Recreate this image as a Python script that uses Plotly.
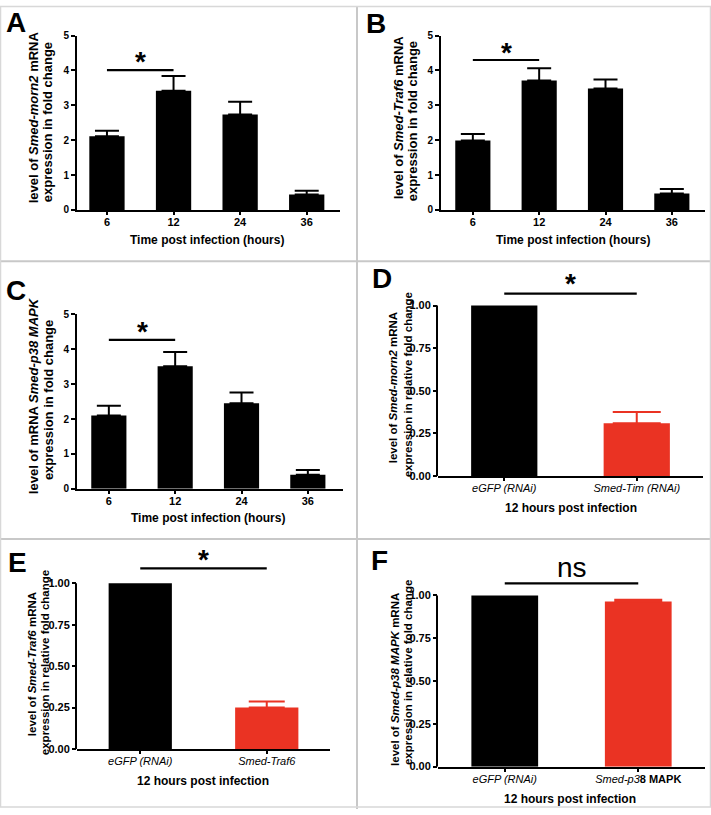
import plotly.graph_objects as go

W, H = 711, 815
FONT = "Liberation Sans, Arial, Helvetica, sans-serif"
RED = "#EA3323"
GRID = "#c8c8c8"

# ---------------- data ----------------
time_labels = ["6", "12", "24", "36"]

a_mean = [2.11, 3.42, 2.74, 0.44]
a_sem = [0.16, 0.42, 0.36, 0.11]
b_mean = [1.99, 3.71, 3.48, 0.47]
b_sem = [0.19, 0.35, 0.26, 0.13]
c_mean = [2.10, 3.51, 2.45, 0.40]
c_sem = [0.28, 0.41, 0.31, 0.14]

d_groups = ["eGFP (RNAi)", "Smed-Tim (RNAi)"]
d_ticktext = ["<i>eGFP (RNAi)</i>", "<i>Smed-Tim (RNAi)</i>"]
d_mean = [1.00, 0.31]
d_sem = [0.0, 0.065]

e_groups = ["eGFP (RNAi)", "Smed-Traf6"]
e_ticktext = ["<i>eGFP (RNAi)</i>", "<i>Smed-Traf6</i>"]
e_mean = [1.00, 0.25]
e_sem = [0.0, 0.037]

f_groups = ["eGFP (RNAi)", "Smed-p38 MAPK"]
f_ticktext = ["<i>eGFP (RNAi)</i>", "<i>Smed-p3</i><b>8 MAPK</b>"]
f_mean = [1.00, 0.965]
f_sem = [0.0, 0.01]

# significance brackets: (level of line, level of label, label)
sig_a = (4.01, 4.30, "*")
sig_b = (4.30, 4.58, "*")
sig_c = (4.27, 4.58, "*")
sig_d = (1.07, 1.14, "*")
sig_e = (1.09, 1.155, "*")
sig_f = (1.07, 1.15, "ns")

time_ticks = [0, 1, 2, 3, 4, 5]
rel_ticks = [0, 0.25, 0.5, 0.75, 1.0]


def px(p):
    return p / W


def py(p):
    return 1 - p / H


fig = go.Figure()

# panel geometry (pixel positions of plot areas)
panels = {
    1: dict(x=(77, 340), y=(207, 30), xr=[-0.45, 3.5]),
    2: dict(x=(441, 705), y=(207, 30), xr=[-0.48, 3.5]),
    3: dict(x=(77, 343), y=(490, 313), xr=[-0.48, 3.53]),
    4: dict(x=(438, 703), y=(477, 266), xr=[-0.5, 1.5]),
    5: dict(x=(77, 330), y=(754, 549), xr=[-0.5, 1.5]),
    6: dict(x=(438, 705), y=(772, 560), xr=[-0.5, 1.5]),
}

layout_axes = {}
time_sets = {1: (a_mean, a_sem, sig_a), 2: (b_mean, b_sem, sig_b), 3: (c_mean, c_sem, sig_c)}
rel_sets = {
    4: (d_groups, d_ticktext, d_mean, d_sem, sig_d, 24),
    5: (e_groups, e_ticktext, e_mean, e_sem, sig_e, 18),
    6: (f_groups, f_ticktext, f_mean, f_sem, sig_f, 24),
}

annotations = []
shapes = []

for i, g in panels.items():
    xa = "x" if i == 1 else f"x{i}"
    ya = "y" if i == 1 else f"y{i}"
    xkey = "xaxis" if i == 1 else f"xaxis{i}"
    ykey = "yaxis" if i == 1 else f"yaxis{i}"
    if i in time_sets:
        mean, sem, sig = time_sets[i]
        fig.add_trace(go.Bar(
            x=time_labels, y=mean, width=0.53, xaxis=xa, yaxis=ya,
            marker=dict(color="black", line=dict(width=0)),
            error_y=dict(type="data", array=sem, arrayminus=[0] * len(sem), symmetric=False,
                         color="black", thickness=2, width=12),
            showlegend=False, hoverinfo="skip"))
        fig.add_trace(go.Scatter(
            x=time_labels[:2], y=[sig[0], sig[0]], mode="lines", xaxis=xa, yaxis=ya,
            line=dict(color="black", width=2.2), showlegend=False, hoverinfo="skip"))
        annotations.append(dict(x=0.5, y=sig[1], xref=xa, yref=ya, text="<b>" + sig[2] + "</b>",
                                showarrow=False, font=dict(family=FONT, size=28, color="black"),
                                yanchor="middle", yshift=-2))
        layout_axes[xkey] = dict(
            domain=[px(g["x"][0]), px(g["x"][1])], anchor=ya, type="category",
            categoryorder="array", categoryarray=time_labels, range=g["xr"],
            showline=True, linecolor="black", linewidth=2, ticks="outside", ticklen=3,
            tickwidth=1.5, tickcolor="black", showgrid=False, zeroline=False,
            ticklabelstandoff=-2,
            tickfont=dict(family=FONT, size=11, color="black", weight="bold"))
        layout_axes[ykey] = dict(
            domain=[py(g["y"][0]), py(g["y"][1])], anchor=xa, range=[0, 5],
            tickvals=time_ticks, showline=True, linecolor="black", linewidth=2,
            ticks="outside", ticklen=4, tickwidth=2, tickcolor="black",
            showgrid=False, zeroline=False,
            tickfont=dict(family=FONT, size=10, color="black", weight="bold"))
    else:
        groups, ttext, mean, sem, sig, capw = rel_sets[i]
        fig.add_trace(go.Bar(
            x=groups[:1], y=mean[:1], width=0.5, xaxis=xa, yaxis=ya,
            marker=dict(color="black", line=dict(width=0)),
            showlegend=False, hoverinfo="skip"))
        fig.add_trace(go.Bar(
            x=groups[1:], y=mean[1:], width=0.5, xaxis=xa, yaxis=ya,
            marker=dict(color=RED, line=dict(width=0)),
            error_y=dict(type="data", array=sem[1:], arrayminus=[0], symmetric=False,
                         color=RED, thickness=2, width=capw),
            showlegend=False, hoverinfo="skip"))
        fig.add_trace(go.Scatter(
            x=groups, y=[sig[0], sig[0]], mode="lines", xaxis=xa, yaxis=ya,
            line=dict(color="black", width=2.2), showlegend=False, hoverinfo="skip"))
        is_ns = sig[2] == "ns"
        annotations.append(dict(x=0.5, y=sig[1], xref=xa, yref=ya,
                                text=sig[2] if is_ns else "<b>" + sig[2] + "</b>",
                                showarrow=False, font=dict(family=FONT, size=28, color="black"),
                                yanchor="middle", yshift=2 if is_ns else -2))
        layout_axes[xkey] = dict(
            domain=[px(g["x"][0]), px(g["x"][1])], anchor=ya, type="category",
            categoryorder="array", categoryarray=groups, range=g["xr"],
            tickvals=groups, ticktext=ttext,
            showline=True, linecolor="black", linewidth=2, ticks="outside", ticklen=3,
            tickwidth=1.5, tickcolor="black", showgrid=False, zeroline=False,
            ticklabelstandoff=-2,
            tickfont=dict(family=FONT, size=11, color="black"))
        layout_axes[ykey] = dict(
            domain=[py(g["y"][0]), py(g["y"][1])], anchor=xa, range=[0, 1.22],
            tickvals=rel_ticks, tickformat=".2f", showline=False,
            ticks="outside", ticklen=4, tickwidth=2, tickcolor="black",
            showgrid=False, zeroline=False,
            tickfont=dict(family=FONT, size=11, color="black", weight="bold"))
        # visible y axis line only up to 1.00
        shapes.append(dict(type="line", xref=f"{xa} domain", yref=ya, xsizemode="pixel",
                           xanchor=0, x0=-1, x1=-1, y0=0, y1=1.0,
                           line=dict(color="black", width=2)))

# panel letters
letters = [("A", 16, 17), ("B", 376, 17.5), ("C", 16, 288.5),
           ("D", 382, 276.5), ("E", 17.5, 565), ("F", 380, 563)]
for t, x, y in letters:
    annotations.append(dict(x=px(x), y=py(y), xref="paper", yref="paper", text="<b>" + t + "</b>",
                            showarrow=False, xanchor="center", yanchor="middle",
                            font=dict(family=FONT, size=28, color="black")))

# y-axis titles (two lines each)
ytitles = [
    ("level of <i>Smed-morn2</i> mRNA", 33, 113, 13),
    ("expression in fold change", 47, 118, 13),
    ("level of <i>Smed-Traf6</i> mRNA", 398, 113, 13),
    ("expression in fold change", 412, 117, 13),
    ("level of mRNA <i>Smed-p38 MAPK</i>", 33, 396, 13),
    ("expression in fold change", 48, 400, 13),
    ("level of <i>Smed-morn2</i> mRNA", 393, 388, 11.5),
    ("expression in relative fold change", 408, 385, 11.5),
    ("level of <i>Smed-Traf6</i> mRNA", 32, 668, 11.5),
    ("expression in relative fold change", 45, 667, 11.5),
    ("level of <i>Smed-p38 MAPK</i> mRNA", 395, 684, 11.5),
    ("expression in relative fold change", 408, 677, 11.5),
]
for t, x, y, s in ytitles:
    annotations.append(dict(x=px(x), y=py(y), xref="paper", yref="paper", text="<b>" + t + "</b>",
                            showarrow=False, textangle=-90, xanchor="center", yanchor="middle",
                            font=dict(family=FONT, size=s, color="black")))

# x-axis titles
xtitles = [
    ("Time post infection (hours)", 207, 238),
    ("Time post infection (hours)", 573, 238),
    ("Time post infection (hours)", 208, 520),
    ("12 hours post infection", 571, 509),
    ("12 hours post infection", 203, 787),
    ("12 hours post infection", 570, 805),
]
for t, x, y in xtitles:
    annotations.append(dict(x=px(x), y=py(y), xref="paper", yref="paper", text="<b>" + t + "</b>",
                            showarrow=False, xanchor="center", yanchor="middle",
                            font=dict(family=FONT, size=12, color="black")))

# panel separators and frame
shapes += [
    dict(type="line", xref="paper", yref="paper", x0=px(357), x1=px(357), y0=0, y1=1,
         line=dict(color=GRID, width=2)),
    dict(type="line", xref="paper", yref="paper", x0=0, x1=1, y0=py(259), y1=py(259),
         line=dict(color=GRID, width=2)),
    dict(type="line", xref="paper", yref="paper", x0=0, x1=1, y0=py(541), y1=py(541),
         line=dict(color=GRID, width=2)),
    dict(type="rect", xref="paper", yref="paper", x0=px(0.5), x1=px(710.5), y0=py(813), y1=py(0.5),
         line=dict(color="#d8d8d8", width=1.5)),
]

fig.update_layout(
    width=W, height=H, margin=dict(l=0, r=0, t=0, b=0),
    paper_bgcolor="white", plot_bgcolor="rgba(0,0,0,0)",
    barmode="overlay", showlegend=False,
    font=dict(family=FONT, color="black"),
    annotations=annotations, shapes=shapes,
    **layout_axes,
)

fig.write_html(
    "out.html",
    config={"displayModeBar": False},
    post_script=(
        "document.body.style.margin='0';document.body.style.overflow='hidden';"
        "var d=document.getElementById('{plot_id}');"
        "d.style.position='fixed';d.style.top='0px';d.style.left='0px';"
    ),
)
